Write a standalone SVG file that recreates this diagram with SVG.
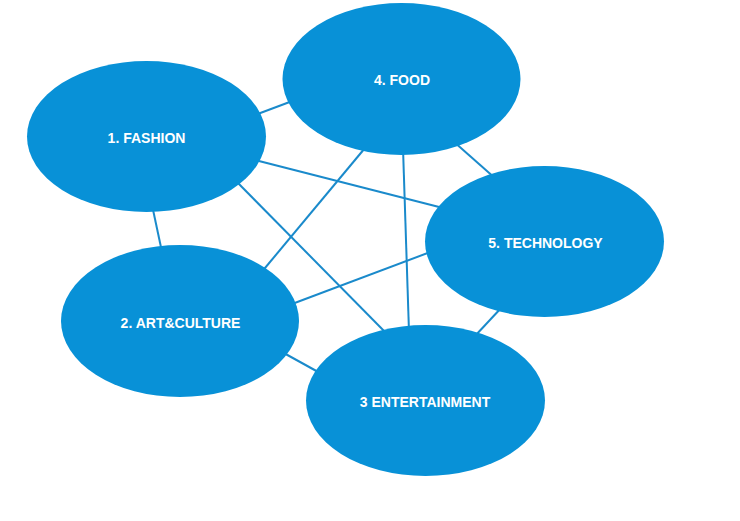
<svg xmlns="http://www.w3.org/2000/svg" width="740" height="521" viewBox="0 0 740 521">
<style>
.node{fill:#0891d7;}
.lbl{fill:#ffffff;font-family:"Liberation Sans",Arial,sans-serif;font-weight:bold;font-size:14px;text-anchor:middle;}
.edge{stroke:#1a8acb;stroke-width:2;fill:none;}
</style>
<rect width="740" height="521" fill="#ffffff"/>
<g id="connectors">
<line class="edge" x1="255" y1="115" x2="295" y2="100"/>
<line class="edge" x1="255" y1="160" x2="443" y2="208"/>
<line class="edge" x1="236" y1="181" x2="388" y2="335"/>
<line class="edge" x1="152" y1="205" x2="162" y2="252"/>
<line class="edge" x1="365" y1="148" x2="260" y2="274"/>
<line class="edge" x1="403" y1="148" x2="409" y2="332"/>
<line class="edge" x1="453" y1="141" x2="496" y2="179"/>
<line class="edge" x1="292" y1="304" x2="433" y2="251"/>
<line class="edge" x1="282" y1="352" x2="320" y2="373"/>
<line class="edge" x1="503" y1="306" x2="474" y2="337"/>
</g>
<g id="n1"><ellipse class="node" cx="146.5" cy="136.5" rx="119.5" ry="75.5"/><text class="lbl" x="146.5" y="143">1. FASHION</text></g>
<g id="n4"><ellipse class="node" cx="401.5" cy="79" rx="119" ry="76"/><text class="lbl" x="402" y="85">4. FOOD</text></g>
<g id="n5"><ellipse class="node" cx="544.5" cy="241.5" rx="119.5" ry="75.5"/><text class="lbl" x="545.5" y="248">5. TECHNOLOGY</text></g>
<g id="n2"><ellipse class="node" cx="180" cy="321" rx="119" ry="76"/><text class="lbl" x="180.5" y="327.5">2. ART&amp;CULTURE</text></g>
<g id="n3"><ellipse class="node" cx="425.5" cy="400.5" rx="119.5" ry="75.5"/><text class="lbl" x="425" y="407">3 ENTERTAINMENT</text></g>
</svg>
